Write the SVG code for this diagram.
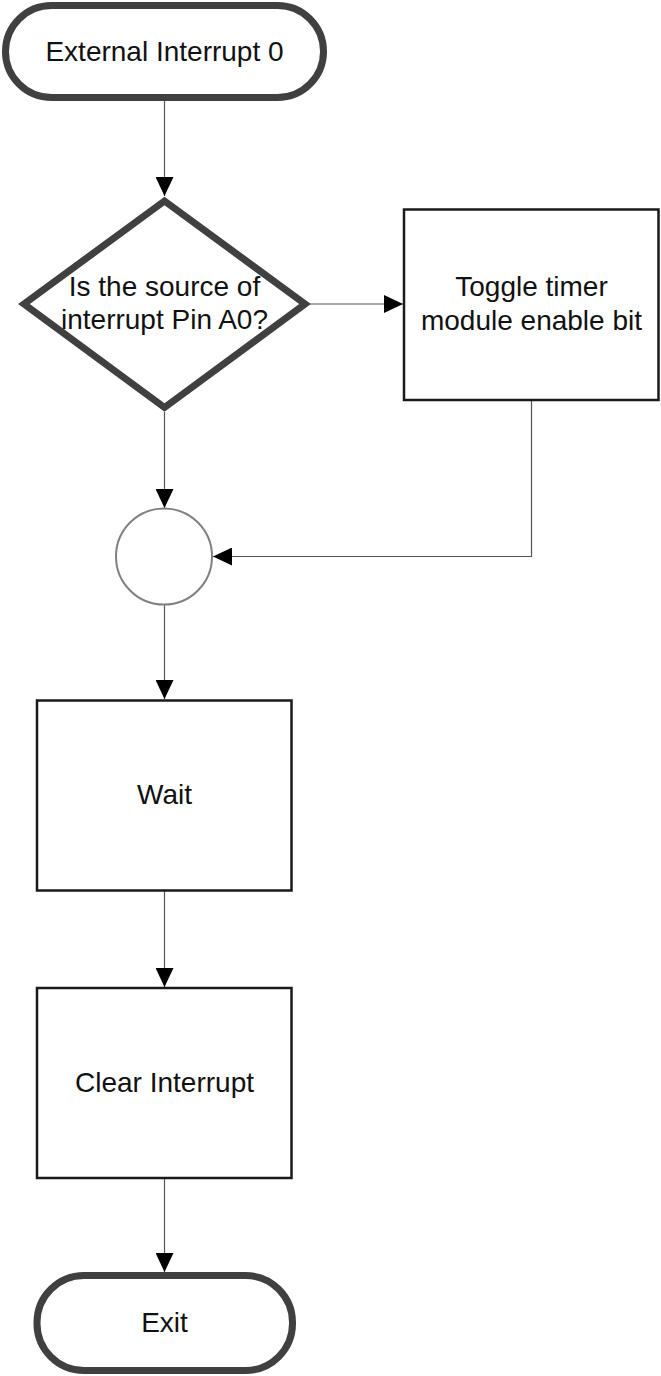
<svg xmlns="http://www.w3.org/2000/svg" width="661" height="1376" viewBox="0 0 661 1376">
<style>
.term{fill:#fff;stroke:#404040;stroke-width:7}
.dec{fill:#fff;stroke:#404040;stroke-width:7;stroke-linejoin:miter}
.proc{fill:#fff;stroke:#1a1a1a;stroke-width:2.5}
.junc{fill:#fff;stroke:#808080;stroke-width:2}
.lbl{font-family:"Liberation Sans",Arial,sans-serif;font-size:28px;fill:#111;text-anchor:middle}
.conn{fill:none;stroke:#555;stroke-width:1.2}
</style>
<defs>
<marker id="arr" markerUnits="userSpaceOnUse" markerWidth="19" markerHeight="18" refX="19" refY="9" orient="auto">
<path d="M0,0 L19,9 L0,18 Z" fill="#000"/>
</marker>
</defs>
<rect width="661" height="1376" fill="#fff"/>
<g id="connectors">
<line class="conn" x1="164.5" y1="101" x2="164.5" y2="196" marker-end="url(#arr)"/>
<line class="conn" x1="310" y1="304" x2="403" y2="304" marker-end="url(#arr)"/>
<line class="conn" x1="164.5" y1="412" x2="164.5" y2="508" marker-end="url(#arr)"/>
<polyline class="conn" points="531.5,401 531.5,556.5 213,556.5" marker-end="url(#arr)"/>
<line class="conn" x1="164.5" y1="605" x2="164.5" y2="699" marker-end="url(#arr)"/>
<line class="conn" x1="164.5" y1="891" x2="164.5" y2="987" marker-end="url(#arr)"/>
<line class="conn" x1="164.5" y1="1179" x2="164.5" y2="1272" marker-end="url(#arr)"/>
</g>
<g id="start">
<rect class="term" x="5.5" y="5.5" width="318" height="92" rx="46"/>
<text class="lbl" x="164.5" y="61">External Interrupt 0</text>
</g>
<g id="decision">
<polygon class="dec" points="164.5,201 305,304 164.5,407.5 24,304"/>
<text class="lbl" x="164.5" y="296">Is the source of</text>
<text class="lbl" x="164.5" y="329">interrupt Pin A0?</text>
</g>
<g id="toggle">
<rect class="proc" x="404" y="209.5" width="254.5" height="190.5"/>
<text class="lbl" x="531.5" y="296">Toggle timer</text>
<text class="lbl" x="531.5" y="330">module enable bit</text>
</g>
<g id="junction">
<circle class="junc" cx="164" cy="556.5" r="48"/>
</g>
<g id="wait">
<rect class="proc" x="37" y="700.5" width="254.5" height="190"/>
<text class="lbl" x="164.5" y="804">Wait</text>
</g>
<g id="clear">
<rect class="proc" x="37" y="988" width="254.5" height="190"/>
<text class="lbl" x="164.5" y="1092">Clear Interrupt</text>
</g>
<g id="exit">
<rect class="term" x="37" y="1275.5" width="255.5" height="95" rx="47"/>
<text class="lbl" x="164.5" y="1332">Exit</text>
</g>
</svg>
